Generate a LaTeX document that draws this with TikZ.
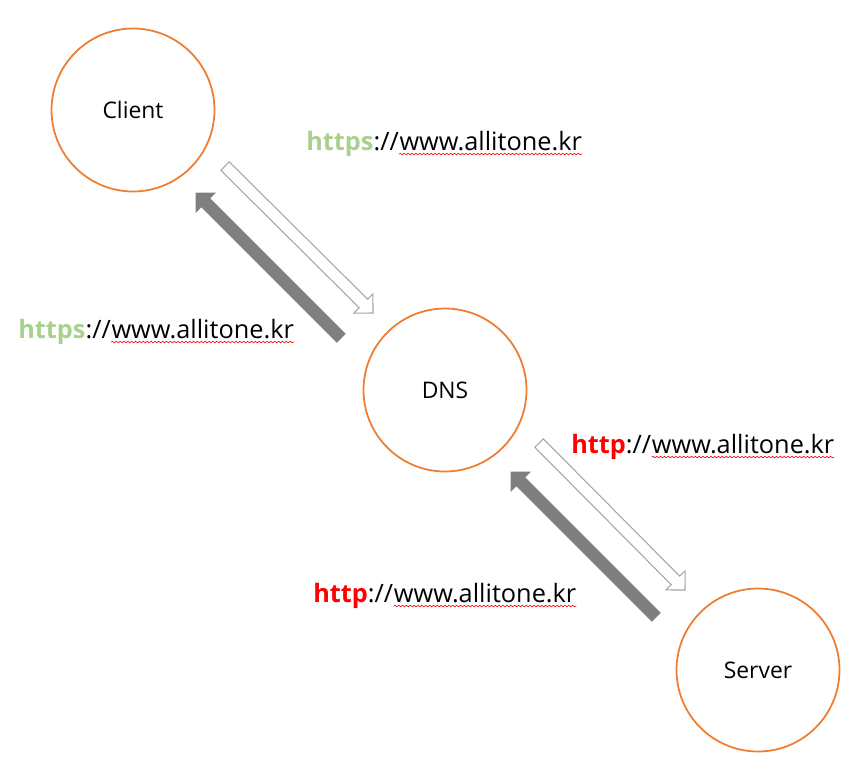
\documentclass[tikz,border=0pt]{standalone}
\usepackage{fontspec}
\setmainfont{Open Sans}
\usepackage{xcolor}
\usetikzlibrary{calc, decorations.pathmorphing}

\definecolor{ringorange}{HTML}{ED7D31}
\definecolor{securegreen}{HTML}{A9D18E}
\definecolor{plainred}{HTML}{FF0000}
\definecolor{arrowgray}{HTML}{7F7F7F}
\definecolor{outlinegray}{HTML}{A5A5A5}

\tikzset{
    blockarrow/.style={to path={
        ($(\tikztostart)!0.12cm!90:(\tikztotarget)$)
        -- ($(\tikztotarget)!0.27cm!(\tikztostart)!0.12cm!-90:(\tikztostart)$)
        -- ($(\tikztotarget)!0.27cm!(\tikztostart)!0.27cm!-90:(\tikztostart)$)
        -- (\tikztotarget)
        -- ($(\tikztotarget)!0.27cm!(\tikztostart)!0.27cm!90:(\tikztostart)$)
        -- ($(\tikztotarget)!0.27cm!(\tikztostart)!0.12cm!90:(\tikztostart)$)
        -- ($(\tikztostart)!0.12cm!-90:(\tikztotarget)$)
        -- cycle}}
}

\begin{document}
\begin{tikzpicture}[
    x=0.02cm, y=-0.02cm,
    host/.style={circle, draw=ringorange, line width=1pt, minimum size=3.26cm, inner sep=0pt, font=\fontsize{13}{15}\selectfont},
    addr/.style={inner sep=0pt, font=\fontsize{14.4}{17}\selectfont},
    request/.style={blockarrow, draw=outlinegray, fill=white, line width=0.6pt},
    reply/.style={blockarrow, draw=arrowgray, fill=arrowgray, line width=0.4pt},
    spell/.style={plainred, line width=0.35pt, decorate, decoration={snake, amplitude=0.45pt, segment length=2.2pt}}
]
\useasboundingbox (0,0) rectangle (868,769);

\node[host] (client) at (133,110) {Client};
\node[host] (dns) at (445,390) {DNS};
\node[host] (server) at (758,670) {Server};

\coordinate (req1a) at (225,166);
\coordinate (req1b) at (373,313);
\coordinate (rep1a) at (341,338);
\coordinate (rep1b) at (196,193);
\coordinate (req2a) at (539,443);
\coordinate (req2b) at (685,590);
\coordinate (rep2a) at (656,617);
\coordinate (rep2b) at (511,472);

\draw[request] (req1a) to (req1b);
\draw[reply] (rep1a) to (rep1b);
\draw[request] (req2a) to (req2b);
\draw[reply] (rep2a) to (rep2b);

\node[addr, anchor=base west] (toproto) at (306,150) {\textcolor{securegreen}{\bfseries https}://};
\node[addr, anchor=base west] (tourl) at (toproto.base east) {www.allitone.kr};
\node[addr, anchor=base west] (backproto) at (18,338) {\textcolor{securegreen}{\bfseries https}://};
\node[addr, anchor=base west] (backurl) at (backproto.base east) {www.allitone.kr};
\node[addr, anchor=base west] (fwdproto) at (571,453) {\textcolor{plainred}{\bfseries http}://};
\node[addr, anchor=base west] (fwdurl) at (fwdproto.base east) {www.allitone.kr};
\node[addr, anchor=base west] (retproto) at (313,602) {\textcolor{plainred}{\bfseries http}://};
\node[addr, anchor=base west] (returl) at (retproto.base east) {www.allitone.kr};

\draw[spell] ([yshift=-2.3pt]tourl.base west) -- ([yshift=-2.3pt]tourl.base east);
\draw[spell] ([yshift=-2.3pt]backurl.base west) -- ([yshift=-2.3pt]backurl.base east);
\draw[spell] ([yshift=-2.3pt]fwdurl.base west) -- ([yshift=-2.3pt]fwdurl.base east);
\draw[spell] ([yshift=-2.3pt]returl.base west) -- ([yshift=-2.3pt]returl.base east);

\end{tikzpicture}
\end{document}
